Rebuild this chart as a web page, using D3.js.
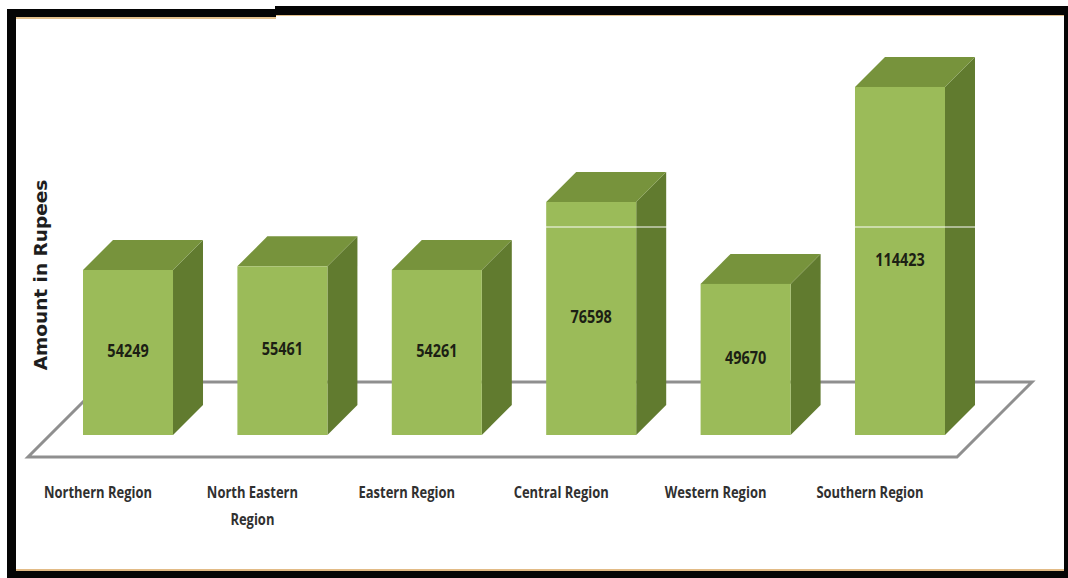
<!DOCTYPE html>
<html>
<head>
<meta charset="utf-8">
<script src="https://cdn.jsdelivr.net/npm/d3@7"></script>
<style>
  html, body { margin: 0; padding: 0; background: #ffffff; }
  svg { display: block; }
</style>
</head>
<body>
<svg id="chart" width="1068" height="578"></svg>
<script>
// Regional amounts (in rupees)
const categories = ["Northern Region", "North Eastern Region", "Eastern Region", "Central Region", "Western Region", "Southern Region"];
const amounts = [54249, 55461, 54261, 76598, 49670, 114423];
const tickLabels = [["Northern Region"], ["North Eastern", "Region"], ["Eastern Region"], ["Central Region"], ["Western Region"], ["Southern Region"]];
const axisTitle = "Amount in Rupees";

const W = 1068, H = 578;
const svg = d3.select("#chart");

// 3D geometry of the bars and the floor
const depth = 30;          // bar depth offset (px, up-right)
const floorDepth = 75;     // floor depth offset
const baseY = 435;         // front bottom edge of bars

const x = d3.scaleBand()
  .domain(categories)
  .range([83, 945])
  .paddingInner(0.417)
  .paddingOuter(0);

const y = d3.scaleLinear()
  .domain([0, 120000])
  .range([baseY, 70]);

const colors = { front: "#9bbb59", top: "#77933c", side: "#617b2f" };
const labelFont = "'Open Sans', 'Liberation Sans', sans-serif";

// Frame
const frame = svg.append("g");
frame.append("rect").attr("x", 0).attr("y", 0).attr("width", W).attr("height", H).attr("fill", "#ffffff");
frame.append("rect").attr("x", 8).attr("y", 17).attr("width", 268).attr("height", 2).attr("fill", "#e2c08c");
frame.append("rect").attr("x", 275).attr("y", 14).attr("width", 790).attr("height", 2).attr("fill", "#e2c08c");
frame.append("rect").attr("x", 8).attr("y", 569).attr("width", 1057).attr("height", 2).attr("fill", "#e2bb86");
frame.append("rect").attr("x", 7).attr("y", 9).attr("width", 269).attr("height", 8).attr("fill", "#050505");
frame.append("rect").attr("x", 275).attr("y", 6).attr("width", 793).attr("height", 9).attr("fill", "#050505");
frame.append("rect").attr("x", 7).attr("y", 9).attr("width", 9).attr("height", H - 9).attr("fill", "#050505");
frame.append("rect").attr("x", 1064).attr("y", 6).attr("width", 4).attr("height", H - 6).attr("fill", "#050505");
frame.append("rect").attr("x", 7).attr("y", 571).attr("width", W - 7).attr("height", 7).attr("fill", "#050505");

// Floor of the plot
const floorLeft = 28, floorRight = 957, floorFrontY = 457;
const floorPts = [
  [floorLeft, floorFrontY],
  [floorRight, floorFrontY],
  [floorRight + floorDepth, floorFrontY - floorDepth],
  [floorLeft + floorDepth, floorFrontY - floorDepth]
];
svg.append("path")
  .attr("d", d3.line()(floorPts) + "Z")
  .attr("fill", "#ffffff")
  .attr("stroke", "#8f8f8f")
  .attr("stroke-width", 3)
  .attr("stroke-linejoin", "miter");

// Bars
const bars = svg.append("g").selectAll("g")
  .data(categories.map((c, i) => ({ cat: c, value: amounts[i] })))
  .join("g");

bars.append("path") // side face
  .attr("d", d => {
    const x1 = x(d.cat) + x.bandwidth(), yt = y(d.value);
    return d3.line()([[x1, yt], [x1 + depth, yt - depth], [x1 + depth, baseY - depth], [x1, baseY]]) + "Z";
  })
  .attr("fill", colors.side);

bars.append("path") // top face
  .attr("d", d => {
    const x0 = x(d.cat), x1 = x0 + x.bandwidth(), yt = y(d.value);
    return d3.line()([[x0, yt], [x0 + depth, yt - depth], [x1 + depth, yt - depth], [x1, yt]]) + "Z";
  })
  .attr("fill", colors.top);

bars.append("rect") // front face
  .attr("x", d => x(d.cat))
  .attr("y", d => y(d.value))
  .attr("width", x.bandwidth())
  .attr("height", d => baseY - y(d.value))
  .attr("fill", colors.front);

// faint back-wall gridline showing across the taller bars
svg.append("line")
  .attr("x1", 100).attr("x2", 1030)
  .attr("y1", 227).attr("y2", 227)
  .attr("stroke", "#ffffff")
  .attr("stroke-opacity", 0.65)
  .attr("stroke-width", 1.5);

// Value labels on the front faces (slightly condensed)
bars.append("text")
  .attr("transform", d => `translate(${x(d.cat) + x.bandwidth() / 2},${(y(d.value) + baseY) / 2}) scale(0.85,1)`)
  .attr("text-anchor", "middle")
  .attr("dominant-baseline", "middle")
  .attr("font-family", labelFont)
  .attr("font-weight", "bold")
  .attr("font-size", 17)
  .attr("fill", "#1c1f14")
  .text(d => d.value);

// Category labels (condensed)
const labelG = svg.append("g")
  .attr("font-family", labelFont)
  .attr("font-weight", "bold")
  .attr("font-size", 16)
  .attr("fill", "#303030")
  .attr("text-anchor", "middle");

categories.forEach((c, i) => {
  const t = labelG.append("text")
    .attr("transform", `translate(${x(c) + x.bandwidth() / 2 - 30},498) scale(0.81,1)`);
  tickLabels[i].forEach((line, j) => {
    t.append("tspan")
      .attr("x", 0)
      .attr("y", j * 27)
      .text(line);
  });
});

// Axis title
svg.append("text")
  .attr("transform", "translate(47,275) rotate(-90)")
  .attr("text-anchor", "middle")
  .attr("font-family", "'DejaVu Sans', sans-serif")
  .attr("font-weight", "bold")
  .attr("font-size", 18.5)
  .attr("fill", "#1e1e1e")
  .text(axisTitle);
</script>
</body>
</html>
